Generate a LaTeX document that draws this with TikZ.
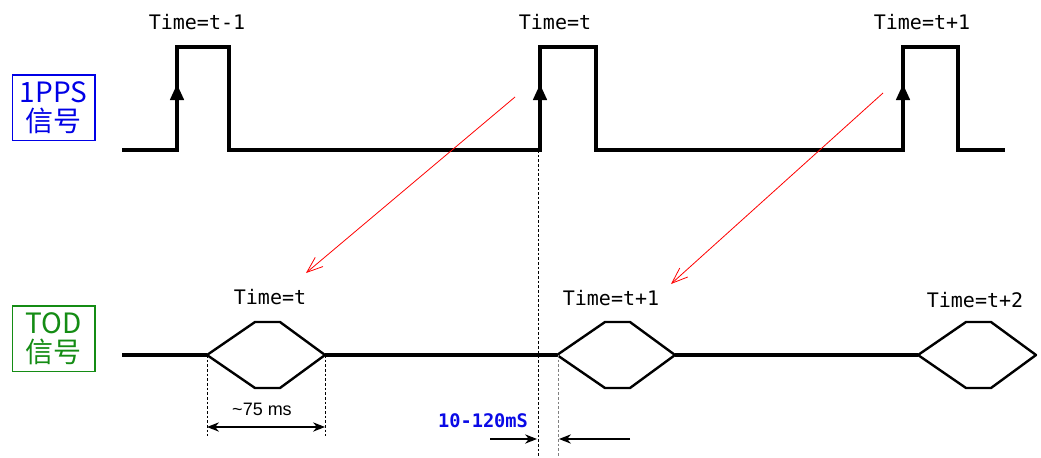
\documentclass[tikz,border=0pt]{standalone}
\usepackage{fontspec}
\usepackage{xcolor}
\usetikzlibrary{positioning, arrows.meta}
\newfontfamily\cjk{Noto Sans CJK SC}
\newfontfamily\monofont{DejaVu Sans Mono}
\setsansfont{Liberation Sans}
\definecolor{ppsblue}{RGB}{0,0,230}
\definecolor{todgreen}{RGB}{20,140,20}
\definecolor{lblblue}{RGB}{10,10,230}

\begin{document}
\begin{tikzpicture}[x=0.75pt, y=-0.75pt,
    sig/.style={line width=2.6pt, line join=miter},
    hexa/.style={line width=1.8pt, line join=round},
    guide/.style={line width=0.7pt, dash pattern=on 2pt off 1.5pt},
    timelbl/.style={font=\monofont\fontsize{15}{18}\selectfont},
    sigbox/.style={draw, line width=1pt, minimum width=62pt, minimum height=49pt,
      inner sep=0pt, align=center, font=\cjk\fontsize{21}{21.5}\selectfont},
    redarr/.style={red, line width=0.6pt, -{Straight Barb[length=12pt, width=9pt]}},
    dimarr/.style={line width=0.8pt, -{Stealth[length=9pt, width=7pt]}}]
  \useasboundingbox (0,0) rectangle (1041,457);

  \node[sigbox, ppsblue] (pps) at (53.5,107.5) {1PPS\\信号};
  \node[sigbox, todgreen] (tod) at (53.5,338.5) {TOD\\信号};

  \draw[sig] (122,150) -- (177,150) -- (177,47) -- (229,47) -- (229,150)
    -- (540,150) -- (540,47) -- (596,47) -- (596,150)
    -- (903,150) -- (903,47) -- (958,47) -- (958,150) -- (1005,150);
  \foreach \x in {177,540,903}
    \draw[line width=2.6pt, -{Triangle[length=12pt, width=10pt]}] (\x,150) -- (\x,84);

  \node[timelbl] (p1) at (197,22) {Time=t-1};
  \node[timelbl] (p2) at (555,22) {Time=t};
  \node[timelbl] (p3) at (922,22) {Time=t+1};

  \draw[sig] (122,355) -- (207,355);
  \draw[sig] (325,355) -- (557,355);
  \draw[sig] (675,355) -- (918,355);
  \foreach \x in {207,557,918}
    \draw[hexa] (\x,355) -- (\x+48,322) -- (\x+73,322) -- (\x+118,355)
      -- (\x+73,388) -- (\x+48,388) -- cycle;

  \node[timelbl] (t1) at (270,297) {Time=t};
  \node[timelbl] (t2) at (611,298) {Time=t+1};
  \node[timelbl] (t3) at (975,300) {Time=t+2};

  \coordinate (r1s) at (515,97);
  \coordinate (r1e) at (306,273);
  \coordinate (r2s) at (883,93);
  \coordinate (r2e) at (671,284);
  \draw[redarr] (r1s) -- (r1e);
  \draw[redarr] (r2s) -- (r2e);

  \draw[guide] (207,355) -- (207,436);
  \draw[guide] (325,355) -- (325,436);
  \draw[guide] (538,150) -- (538,457);
  \draw[guide, gray] (558,355) -- (558,457);

  \coordinate (d1) at (207,427);
  \coordinate (d2) at (325,427);
  \draw[line width=0.8pt, {Stealth[length=9pt, width=7pt]}-{Stealth[length=9pt, width=7pt]}] (d1) -- (d2);
  \node[font=\sffamily\fontsize{13.5}{15}\selectfont] (w1) at (262,409) {\textasciitilde75 ms};

  \coordinate (a1s) at (490,439);
  \coordinate (a1e) at (537,439);
  \coordinate (a2s) at (630,439);
  \coordinate (a2e) at (559,439);
  \draw[dimarr] (a1s) -- (a1e);
  \draw[dimarr] (a2s) -- (a2e);
  \node[lblblue, font=\monofont\bfseries\fontsize{14}{16}\selectfont] (w2) at (483,421) {10-120mS};
\end{tikzpicture}
\end{document}
